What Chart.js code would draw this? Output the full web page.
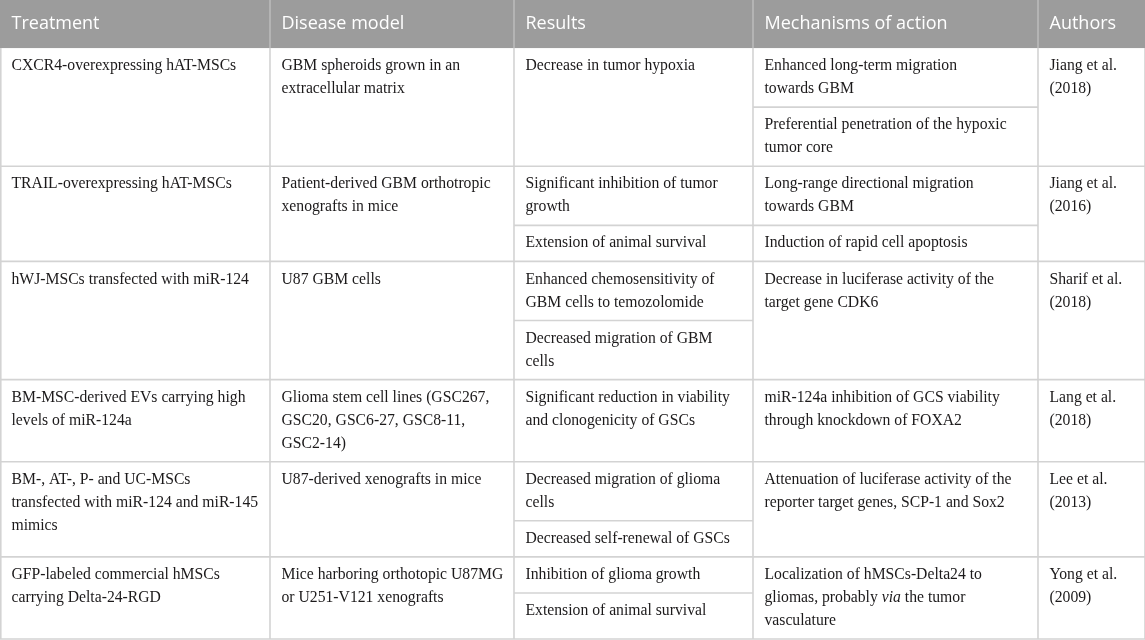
<!DOCTYPE html>
<html>
<head>
<meta charset="utf-8">
<title>Treatment table</title>
<script src="https://cdn.jsdelivr.net/npm/chart.js@4.4.1/dist/chart.umd.min.js"></script>
<style>
  html, body { margin: 0; padding: 0; background: #ffffff; }
  #tabla { display: block; }
</style>
</head>
<body>
<canvas id="tabla" width="1145" height="640"></canvas>
<script>
// Contenido de la tabla (saltos de linea como en el original, *x* = cursiva)
const headers = ['Treatment', 'Disease model', 'Results', 'Mechanisms of action', 'Authors'];

const treatments = [
    ['CXCR4-overexpressing hAT-MSCs'],
    ['TRAIL-overexpressing hAT-MSCs'],
    ['hWJ-MSCs transfected with miR-124'],
    ['BM-MSC-derived EVs carrying high\nlevels of miR-124a'],
    ['BM-, AT-, P- and UC-MSCs\ntransfected with miR-124 and miR-145\nmimics'],
    ['GFP-labeled commercial hMSCs\ncarrying Delta-24-RGD']
];

const diseaseModels = [
    ['GBM spheroids grown in an\nextracellular matrix'],
    ['Patient-derived GBM orthotropic\nxenografts in mice'],
    ['U87 GBM cells'],
    ['Glioma stem cell lines (GSC267,\nGSC20, GSC6-27, GSC8-11,\nGSC2-14)'],
    ['U87-derived xenografts in mice'],
    ['Mice harboring orthotopic U87MG\nor U251-V121 xenografts']
];

const results = [
    ['Decrease in tumor hypoxia'],
    ['Significant inhibition of tumor\ngrowth', 'Extension of animal survival'],
    ['Enhanced chemosensitivity of\nGBM cells to temozolomide', 'Decreased migration of GBM\ncells'],
    ['Significant reduction in viability\nand clonogenicity of GSCs'],
    ['Decreased migration of glioma\ncells', 'Decreased self-renewal of GSCs'],
    ['Inhibition of glioma growth', 'Extension of animal survival']
];

const mechanisms = [
    ['Enhanced long-term migration\ntowards GBM', 'Preferential penetration of the hypoxic\ntumor core'],
    ['Long-range directional migration\ntowards GBM', 'Induction of rapid cell apoptosis'],
    ['Decrease in luciferase activity of the\ntarget gene CDK6'],
    ['miR-124a inhibition of GCS viability\nthrough knockdown of FOXA2'],
    ['Attenuation of luciferase activity of the\nreporter target genes, SCP-1 and Sox2'],
    ['Localization of hMSCs-Delta24 to\ngliomas, probably *via* the tumor\nvasculature']
];

const authors = [
    ['Jiang et al.\n(2018)'],
    ['Jiang et al.\n(2016)'],
    ['Sharif et al.\n(2018)'],
    ['Lang et al.\n(2018)'],
    ['Lee et al.\n(2013)'],
    ['Yong et al.\n(2009)']
];

document.addEventListener("DOMContentLoaded", function () {
    const columns = [treatments, diseaseModels, results, mechanisms, authors];
    const colWidths = [270, 244, 239, 285, 107];
    const headerH = 48;
    const lineH = 23;
    const padY = 6.5;
    const padX = 11.5;
    const bodyFont = '15.7px "Liberation Serif", "DejaVu Serif", serif';
    const bodyItalic = 'italic 15.7px "Liberation Serif", "DejaVu Serif", serif';
    const headFont = '18px "Open Sans", "Noto Sans", sans-serif';

    const nLines = s => s.split('\n').length;
    const subH = s => nLines(s) * lineH + 2 * padY;

    // alto de cada fila = el maximo de lo que apilan sus celdas
    const rowHeights = treatments.map((_, r) =>
        Math.max(...columns.map(col => col[r].reduce((a, s) => a + subH(s), 0))));
    const totalW = colWidths.reduce((a, b) => a + b, 0);
    const totalH = headerH + rowHeights.reduce((a, b) => a + b, 0);

    const colX = [0];
    colWidths.forEach(w => colX.push(colX[colX.length - 1] + w));
    const rowY = [0, headerH];
    rowHeights.forEach(h => rowY.push(rowY[rowY.length - 1] + h));

    function drawRich(ctx, line, x, y) {
        const parts = line.split('*');
        parts.forEach((p, i) => {
            ctx.font = i % 2 ? bodyItalic : bodyFont;
            ctx.fillText(p, x, y);
            x += ctx.measureText(p).width;
        });
    }

    const tablePlugin = {
        id: 'tabla',
        afterDraw(chart) {
            const ctx = chart.ctx;
            const sx = chart.scales.x, sy = chart.scales.y;
            const px = v => sx.getPixelForValue(v);
            const py = v => sy.getPixelForValue(v);
            ctx.save();

            // cabecera
            ctx.fillStyle = '#9c9c9c';
            ctx.fillRect(px(0), py(0), px(totalW) - px(0), py(headerH) - py(0));
            ctx.strokeStyle = '#bdbdbd';
            ctx.lineWidth = 1.5;
            for (let c = 1; c < colX.length - 1; c++) {
                ctx.beginPath();
                ctx.moveTo(px(colX[c]), py(0));
                ctx.lineTo(px(colX[c]), py(headerH));
                ctx.stroke();
            }
            ctx.fillStyle = '#ffffff';
            ctx.font = headFont;
            ctx.textBaseline = 'middle';
            headers.forEach((h, c) => ctx.fillText(h, px(colX[c] + padX), py(headerH / 2)));

            // cuerpo
            ctx.strokeStyle = '#d3d3d3';
            ctx.lineWidth = 1.6;
            const hline = (x0, x1, y) => {
                ctx.beginPath(); ctx.moveTo(px(x0), py(y)); ctx.lineTo(px(x1), py(y)); ctx.stroke();
            };
            const vline = (x, y0, y1) => {
                ctx.beginPath(); ctx.moveTo(px(x), py(y0)); ctx.lineTo(px(x), py(y1)); ctx.stroke();
            };
            for (let r = 0; r < rowHeights.length; r++) {
                const top = rowY[r + 1], bottom = rowY[r + 2];
                hline(0, totalW, bottom);
                columns.forEach((col, c) => {
                    let y = top;
                    const subs = col[r];
                    subs.forEach((s, k) => {
                        ctx.fillStyle = '#1c1a1b';
                        s.split('\n').forEach((ln, i) => {
                            drawRich(ctx, ln, px(colX[c] + padX), py(y + padY + lineH * (i + 0.5)));
                        });
                        y += subH(s);
                        if (k < subs.length - 1) hline(colX[c], colX[c + 1], y);
                    });
                });
            }
            for (let c = 0; c < colX.length; c++) vline(colX[c] + (c === 0 ? 0.8 : 0), headerH, totalH);
            ctx.restore();
        }
    };

    new Chart(document.getElementById('tabla'), {
        type: 'scatter',
        data: { datasets: [] },
        options: {
            responsive: false,
            animation: false,
            layout: { padding: 0 },
            plugins: { legend: { display: false }, tooltip: { enabled: false } },
            scales: {
                x: { type: 'linear', display: false, min: 0, max: totalW },
                y: { type: 'linear', display: false, min: 0, max: totalH + 1, reverse: true }
            }
        },
        plugins: [tablePlugin]
    });
});
</script>
</body>
</html>
